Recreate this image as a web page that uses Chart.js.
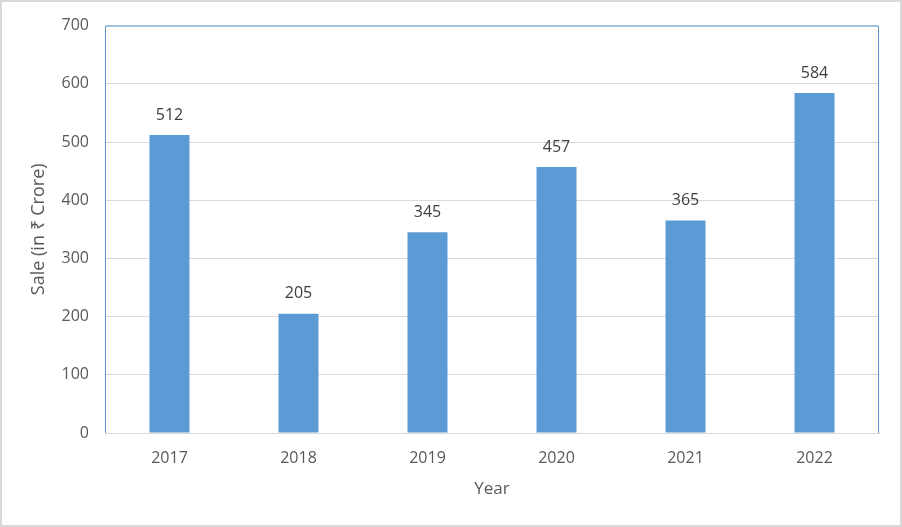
<!DOCTYPE html>
<html>
<head>
<meta charset="utf-8">
<script src="https://cdn.jsdelivr.net/npm/chart.js@4"></script>
<style>
  body { margin: 0; background: #fff; }
  #wrap { width: 902px; height: 527px; }
</style>
</head>
<body>
<div id="wrap"><canvas id="myChart" width="902" height="527"></canvas></div>
<script>
var years = ['2017', '2018', '2019', '2020', '2021', '2022'];
var sales = [512, 205, 345, 457, 365, 584];
var yTicks = [0, 100, 200, 300, 400, 500, 600, 700];

var FONT = '"Open Sans", sans-serif';
var GREY_TEXT = '#595959';

// white background + light grey frame round the whole picture
var frame = {
  id: 'frame',
  beforeDraw: function(chart) {
    var c = chart.ctx;
    c.save();
    c.fillStyle = '#fff';
    c.fillRect(0, 0, chart.width, chart.height);
    c.strokeStyle = '#d9d9d9';
    c.lineWidth = 2;
    c.strokeRect(1, 1, chart.width - 2, chart.height - 2);
    c.restore();
  },
  afterDraw: function(chart) {
    var a = chart.chartArea, c = chart.ctx;
    c.save();
    c.strokeStyle = '#5b9bd5';
    c.lineWidth = 1;
    c.beginPath();
    c.moveTo(a.left + 0.5, a.bottom);
    c.lineTo(a.left + 0.5, a.top + 0.5);
    c.lineTo(a.right - 0.5, a.top + 0.5);
    c.lineTo(a.right - 0.5, a.bottom);
    c.stroke();
    c.restore();
  }
};

// value labels above the bars
var barLabels = {
  id: 'barLabels',
  afterDatasetsDraw: function(chart) {
    var c = chart.ctx;
    var meta = chart.getDatasetMeta(0);
    c.save();
    c.font = '16px ' + FONT;
    c.fillStyle = '#404040';
    c.textAlign = 'center';
    c.textBaseline = 'bottom';
    meta.data.forEach(function(bar, i) {
      c.fillText(sales[i], bar.x, bar.y - 12);
    });
    c.restore();
  }
};

var ctx = document.getElementById('myChart');
var myChart = new Chart(ctx, {
  type: 'bar',
  data: {
    labels: years,
    datasets: [{
      label: 'Sale',
      data: sales,
      backgroundColor: '#5b9bd5',
      categoryPercentage: 1,
      barPercentage: 0.31
    }]
  },
  options: {
    responsive: false,
    animation: false,
    layout: { padding: { top: 23, right: 23, left: 28, bottom: 28 } },
    plugins: {
      legend: { display: false },
      tooltip: { enabled: false }
    },
    scales: {
      x: {
        grid: { display: false },
        border: { color: '#d9d9d9' },
        ticks: { color: GREY_TEXT, font: { family: FONT, size: 16 }, padding: 8 },
        title: { display: true, text: 'Year', color: GREY_TEXT, font: { family: FONT, size: 17 }, padding: { top: 6, bottom: 0 } },
        afterFit: function(s) { s.height = 66; }
      },
      y: {
        min: 0,
        max: 700,
        afterBuildTicks: function(s) { s.ticks = yTicks.map(function(v) { return { value: v }; }); },
        grid: { color: '#d9d9d9', drawTicks: false },
        border: { display: false },
        ticks: { color: GREY_TEXT, font: { family: FONT, size: 16 }, padding: 16 },
        title: { display: true, text: 'Sale (in ₹ Crore)', color: GREY_TEXT, font: { family: FONT, size: 18 }, padding: { top: 0, bottom: 4 } },
        afterFit: function(s) { s.width = 77; }
      }
    }
  },
  plugins: [frame, barLabels]
});
</script>
</body>
</html>
